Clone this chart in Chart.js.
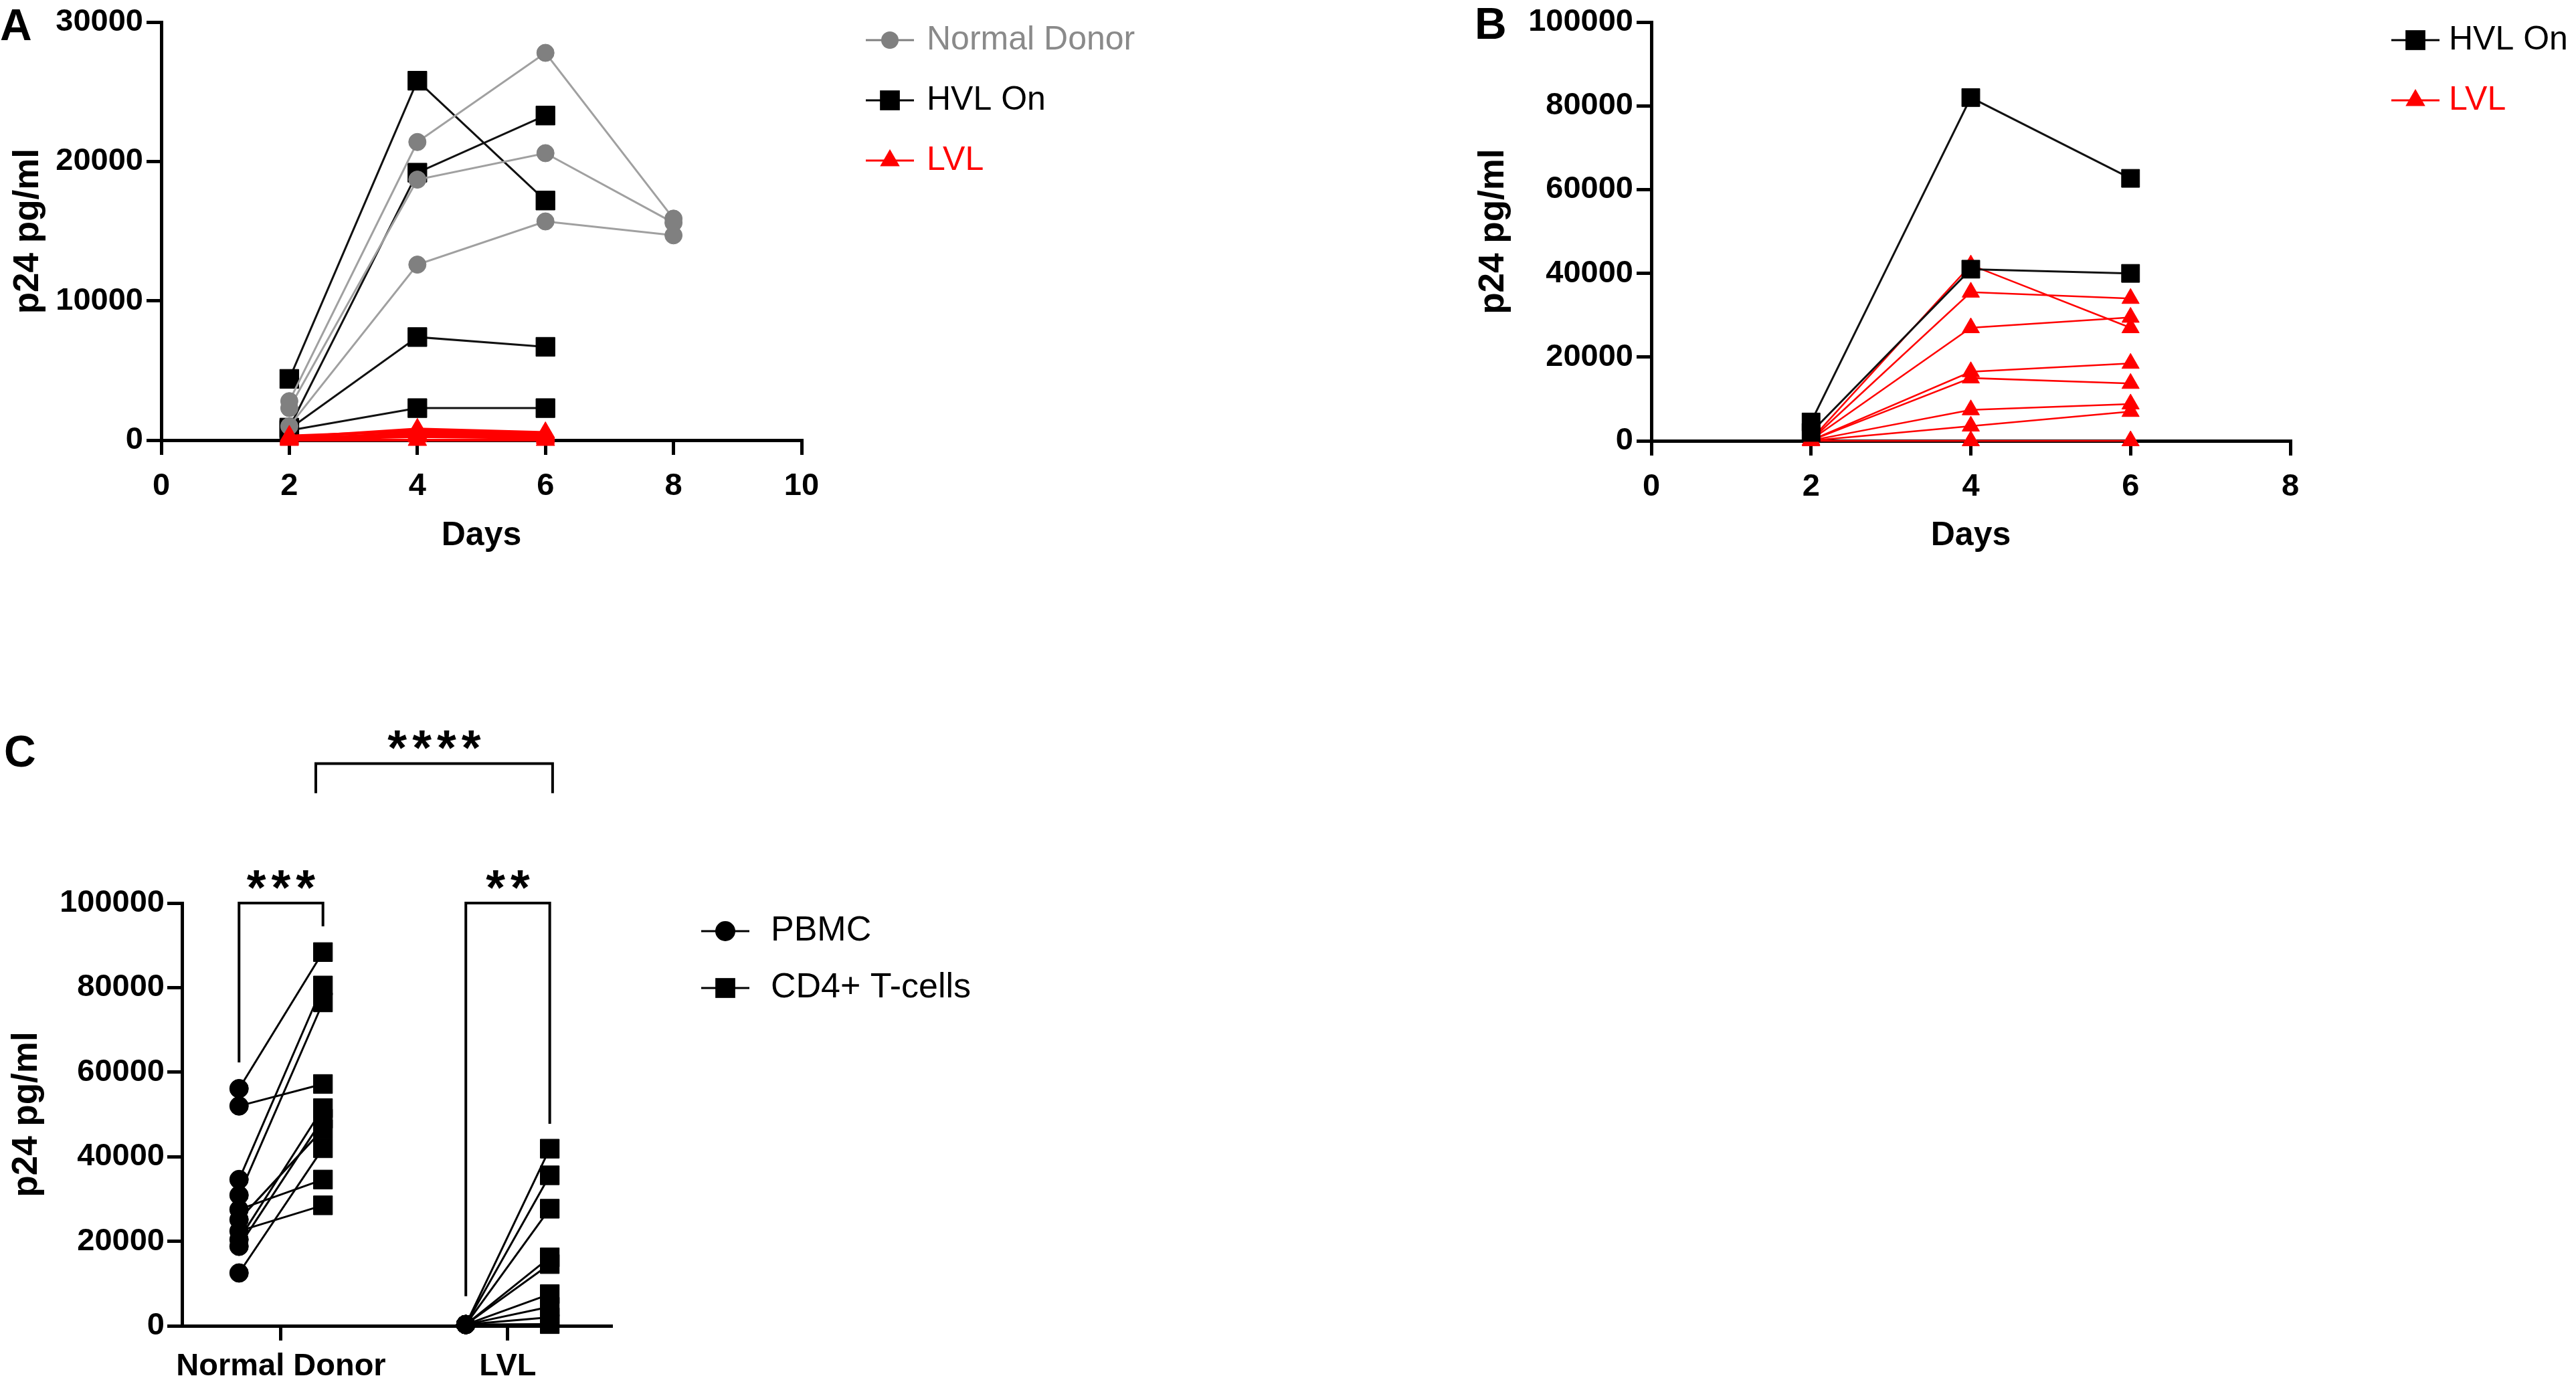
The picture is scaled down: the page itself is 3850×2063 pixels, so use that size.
<!DOCTYPE html>
<html>
<head>
<meta charset="utf-8">
<title>p24 pg/ml</title>
<script src="https://cdn.jsdelivr.net/npm/chart.js@4.4.1/dist/chart.umd.min.js"></script>
<style>
  html, body { margin: 0; padding: 0; background: #fff; }
  body { width: 3850px; height: 2063px; position: relative; overflow: hidden; }
  canvas { position: absolute; }
  #panelA { left: 0; top: 0; }
  #panelB { left: 2190px; top: 0; }
  #panelC { left: 0; top: 1050px; }
</style>
</head>
<body>
<canvas id="panelA" width="1900" height="880"></canvas>
<canvas id="panelB" width="1660" height="880"></canvas>
<canvas id="panelC" width="1700" height="1013"></canvas>
<script>
// ---- panel A : p24 over days ----
const daysA = [2, 4, 6, 8];
const normalDonorA = [
    [2800, 21400, 27800, 15900],
    [2300, 18700, 20600, 15600],
    [1000, 12600, 15700, 14700]
];
const hvlOnA = [
    [4400, 25800, 17200],
    [900, 19200, 23300],
    [800, 7400, 6700],
    [700, 2300, 2300]
];
const lvlA = [
    [200, 800, 550],
    [300, 650, 450],
    [100, 500, 350],
    [150, 400, 250],
    [50, 250, 150],
    [0, 0, 0]
];
const xTicksA = [0, 2, 4, 6, 8, 10];
const yTicksA = [0, 10000, 20000, 30000];

// ---- panel B ----
const daysB = [2, 4, 6];
const hvlOnB = [
    [4500, 82000, 62700],
    [2000, 41000, 40000]
];
const lvlB = [
    [300, 42000, 27000],
    [200, 35500, 34000],
    [250, 27000, 29500],
    [150, 16500, 18500],
    [100, 15000, 13700],
    [100, 7400, 8800],
    [50, 3500, 7000],
    [0, 0, 0]
];
const xTicksB = [0, 2, 4, 6, 8];
const yTicksB = [0, 20000, 40000, 60000, 80000, 100000];

// ---- panel C : PBMC vs CD4+ T-cells ----
const groupsC = ['Normal Donor', 'LVL'];
const pbmcND = [56100, 52000, 34600, 30900, 27500, 25100, 22400, 20400, 18800, 12500];
const cd4ND  = [88400, 57200, 80500, 76500, 34600, 46500, 28500, 51500, 49000, 42000];
const pbmcLVL = [300, 300, 300, 300, 300, 300, 300, 300, 300];
const cd4LVL  = [41900, 35600, 27700, 16200, 14600, 7500, 4500, 2000, 400];
const yTicksC = [0, 20000, 40000, 60000, 80000, 100000];
const sigLabels = ['***', '**', '****'];

const FONT = '"Liberation Sans", Arial, sans-serif';
Chart.defaults.font.family = FONT;
Chart.defaults.color = '#000';

const GREY_LINE = '#a0a0a0';
const GREY_DOT = '#808080';
const RED = '#ff0000';
const TICK_SIZE = 47;

// 画标记
function drawMarker(ctx, style, x, y, r, color) {
    ctx.save();
    ctx.fillStyle = color;
    ctx.beginPath();
    if (style === 'circle') {
        ctx.arc(x, y, r, 0, Math.PI * 2);
    } else if (style === 'rect') {
        const h = r * Math.SQRT1_2;
        ctx.rect(x - h, y - h, 2 * h, 2 * h);
    } else {
        const a = 2 * Math.PI / 3;
        ctx.moveTo(x, y - r);
        ctx.lineTo(x + r * Math.sin(a), y - r * Math.cos(a));
        ctx.lineTo(x - r * Math.sin(a), y - r * Math.cos(a));
        ctx.closePath();
    }
    ctx.fill();
    ctx.restore();
}

// 面板字母、图例、显著性括号
const panelExtras = {
    id: 'panelExtras',
    afterDraw(chart, args, opts) {
        const ctx = chart.ctx;
        ctx.save();
        if (opts.letter) {
            ctx.font = 'bold 66px ' + FONT;
            ctx.fillStyle = '#000';
            ctx.textAlign = 'left';
            ctx.textBaseline = 'alphabetic';
            ctx.fillText(opts.letter, opts.letterX, opts.letterY);
        }
        (opts.legend || []).forEach((item, i) => {
            const y = opts.legendY + i * opts.legendGap;
            ctx.strokeStyle = item.color;
            ctx.lineWidth = 3;
            ctx.beginPath();
            ctx.moveTo(opts.legendX - 36, y);
            ctx.lineTo(opts.legendX + 36, y);
            ctx.stroke();
            drawMarker(ctx, item.style, opts.legendX, y, item.radius, item.color);
            ctx.font = opts.legendFont;
            ctx.fillStyle = item.textColor || item.color;
            ctx.textAlign = 'left';
            ctx.textBaseline = 'middle';
            ctx.fillText(item.label, opts.legendTextX, y);
        });
        const xs = chart.scales.x, ys = chart.scales.y;
        (opts.brackets || []).forEach(b => {
            const x1 = xs.getPixelForValue(b.from), x2 = xs.getPixelForValue(b.to);
            const yt = ys.getPixelForValue(b.top);
            ctx.strokeStyle = '#000';
            ctx.lineWidth = 4;
            ctx.beginPath();
            ctx.moveTo(x1, ys.getPixelForValue(b.leftEnd));
            ctx.lineTo(x1, yt);
            ctx.lineTo(x2, yt);
            ctx.lineTo(x2, ys.getPixelForValue(b.rightEnd));
            ctx.stroke();
            ctx.font = 'bold 74px ' + FONT;
            ctx.letterSpacing = '8px';
            ctx.fillStyle = '#000';
            ctx.textAlign = 'center';
            ctx.textBaseline = 'alphabetic';
            ctx.fillText(b.label, (x1 + x2) / 2 + 4, yt + 2);
            ctx.letterSpacing = '0px';
        });
        ctx.restore();
    }
};

function axisCommon() {
    return {
        grid: { drawOnChartArea: false, drawTicks: true, tickLength: 22, lineWidth: 5, color: '#000' },
        border: { display: true, width: 5, color: '#000' }
    };
}

function lineScales(xMin, xMax, xTicks, yTicks, yWidth, xHeight) {
    return {
        x: Object.assign(axisCommon(), {
            type: 'linear', min: xMin, max: xMax,
            afterBuildTicks: s => { s.ticks = xTicks.map(v => ({ value: v })); },
            afterFit: s => { s.height = xHeight; },
            ticks: { autoSkip: false, padding: 19, font: { size: TICK_SIZE, weight: 'bold' }, color: '#000' },
            title: { display: true, text: 'Days', padding: { top: 0, bottom: 0 }, font: { size: 50, weight: 'bold' }, color: '#000' }
        }),
        y: Object.assign(axisCommon(), {
            type: 'linear', min: 0, max: yTicks[yTicks.length - 1],
            afterBuildTicks: s => { s.ticks = yTicks.map(v => ({ value: v })); },
            afterFit: s => { s.width = yWidth; },
            ticks: { padding: 5, font: { size: TICK_SIZE, weight: 'bold' }, color: '#000', callback: v => String(v) },
            title: { display: true, text: 'p24 pg/ml', padding: { top: 11, bottom: 0 }, font: { size: 53, weight: 'bold' }, color: '#000' }
        })
    };
}

function series(days, values, color, lineColor, style, radius, width) {
    return {
        data: values.map((v, i) => ({ x: days[i], y: v })),
        borderColor: lineColor,
        borderWidth: width,
        pointStyle: style,
        pointRadius: radius,
        pointBackgroundColor: color,
        pointBorderColor: color,
        pointBorderWidth: 1,
        clip: false
    };
}

// ---- 面板 A ----
const datasetsA = []
    .concat(lvlA.map(v => series(daysA, v, RED, RED, 'triangle', 16, 4)))
    .concat(normalDonorA.map(v => series(daysA, v, GREY_DOT, GREY_LINE, 'circle', 13, 3)))
    .concat(hvlOnA.map(v => series(daysA, v, '#000', '#111', 'rect', 20, 3)));

new Chart(document.getElementById('panelA'), {
    type: 'line',
    data: { datasets: datasetsA },
    options: {
        responsive: false, animation: false, devicePixelRatio: 1, events: [],
        layout: { padding: { left: 0, top: 25, right: 702, bottom: 49 } },
        scales: lineScales(0, 10, xTicksA, yTicksA, 241, 173),
        plugins: {
            legend: { display: false }, tooltip: { enabled: false },
            panelExtras: {
                letter: 'A', letterX: 0, letterY: 60,
                legendX: 1330, legendTextX: 1385, legendY: 60, legendGap: 90,
                legendFont: '50px ' + FONT,
                legend: [
                    { label: 'Normal Donor', color: GREY_DOT, textColor: '#8a8a8a', style: 'circle', radius: 13 },
                    { label: 'HVL On', color: '#000', style: 'rect', radius: 21 },
                    { label: 'LVL', color: RED, style: 'triangle', radius: 17 }
                ]
            }
        }
    },
    plugins: [panelExtras]
});

// ---- 面板 B ----
const datasetsB = []
    .concat(hvlOnB.map(v => series(daysB, v, '#000', '#111', 'rect', 19, 3)))
    .concat(lvlB.map(v => series(daysB, v, RED, RED, 'triangle', 15, 2.5)));

new Chart(document.getElementById('panelB'), {
    type: 'line',
    data: { datasets: datasetsB },
    options: {
        responsive: false, animation: false, devicePixelRatio: 1, events: [],
        layout: { padding: { left: 0, top: 22, right: 427, bottom: 49 } },
        scales: lineScales(0, 8, xTicksB, yTicksB, 278, 172),
        plugins: {
            legend: { display: false }, tooltip: { enabled: false },
            panelExtras: {
                letter: 'B', letterX: 14, letterY: 58,
                legendX: 1420, legendTextX: 1470, legendY: 60, legendGap: 90,
                legendFont: '50px ' + FONT,
                legend: [
                    { label: 'HVL On', color: '#000', style: 'rect', radius: 21 },
                    { label: 'LVL', color: RED, style: 'triangle', radius: 17 }
                ]
            }
        }
    },
    plugins: [panelExtras]
});

// ---- 面板 C ----
const groupPos = [1, 3];
const pairOffset = 0.37;
function pairSets(g, before, after) {
    return before.map((v, i) => ({
        data: [{ x: groupPos[g] - pairOffset, y: v }, { x: groupPos[g] + pairOffset, y: after[i] }],
        borderColor: '#000',
        borderWidth: 3,
        pointStyle: ['circle', 'rect'],
        pointRadius: [14, 20],
        pointBackgroundColor: '#000',
        pointBorderColor: '#000',
        pointBorderWidth: 1,
        clip: false
    }));
}

new Chart(document.getElementById('panelC'), {
    type: 'line',
    data: { datasets: pairSets(0, pbmcND, cd4ND).concat(pairSets(1, pbmcLVL, cd4LVL)) },
    options: {
        responsive: false, animation: false, devicePixelRatio: 1, events: [],
        layout: { padding: { left: 0, top: 300, right: 787, bottom: 0 } },
        scales: {
            x: Object.assign(axisCommon(), {
                type: 'linear', min: 0.127, max: 3.909,
                afterBuildTicks: s => { s.ticks = groupPos.map(v => ({ value: v })); },
                afterFit: s => { s.height = 81; },
                ticks: { autoSkip: false, maxRotation: 0, padding: 11, font: { size: 47, weight: 'bold' }, color: '#000',
                         callback: (v, i) => groupsC[i] },
            }),
            y: Object.assign(axisCommon(), {
                type: 'linear', min: 0, max: yTicksC[yTicksC.length - 1],
                afterBuildTicks: s => { s.ticks = yTicksC.map(v => ({ value: v })); },
                afterFit: s => { s.width = 272; },
                ticks: { padding: 4, font: { size: TICK_SIZE, weight: 'bold' }, color: '#000', callback: v => String(v) },
                title: { display: true, text: 'p24 pg/ml', padding: { top: 9, bottom: 0 }, font: { size: 53, weight: 'bold' }, color: '#000' }
            })
        },
        plugins: {
            legend: { display: false }, tooltip: { enabled: false },
            panelExtras: {
                letter: 'C', letterX: 6, letterY: 96,
                legendX: 1084, legendTextX: 1152, legendY: 342, legendGap: 85,
                legendFont: '52px ' + FONT,
                legend: [
                    { label: 'PBMC', color: '#000', style: 'circle', radius: 15 },
                    { label: 'CD4+ T-cells', color: '#000', style: 'rect', radius: 21 }
                ],
                brackets: [
                    { from: 1 - pairOffset, to: 1 + pairOffset, top: 100000, leftEnd: 62300, rightEnd: 94500, label: sigLabels[0] },
                    { from: 3 - pairOffset, to: 3 + pairOffset, top: 100000, leftEnd: 7000, rightEnd: 47800, label: sigLabels[1] },
                    { from: 1.307, to: 3.395, top: 133000, leftEnd: 126000, rightEnd: 126000, label: sigLabels[2] }
                ]
            }
        }
    },
    plugins: [panelExtras]
});
</script>
</body>
</html>
